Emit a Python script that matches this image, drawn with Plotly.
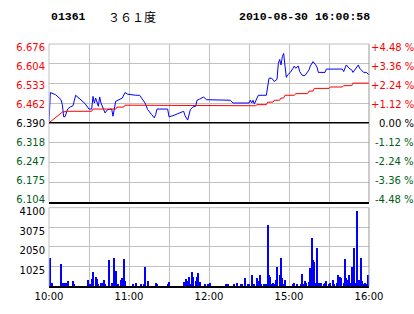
import plotly.graph_objects as go

# ---------------- data ----------------
title_code = "01361"
title_name = "３６１度"
title_time = "2010-08-30 16:00:58"

# minute index from 10:00 (0) to 16:00 (240); 12:30 and 14:30 share index 150
time_tickvals = [0, 30, 60, 90, 120, 150, 180, 210, 240]
time_ticktext = ["10:00", "", "11:00", "", "12:00", "", "15:00", "", "16:00"]

price_minutes = [0, 1, 5, 9, 10, 11, 12, 13, 14, 16, 18, 20, 23, 27, 30, 32, 33, 34, 35, 37,
                 38, 39, 42, 44, 47, 48, 50, 53, 55, 57, 59, 65, 68, 72, 74, 77, 79, 80, 81, 89,
                 90, 93, 97, 101, 102, 104, 106, 108, 110, 111, 113, 116, 118, 136, 138, 150, 151,
                 152, 153, 154, 156, 157, 163, 164, 165, 167, 169, 171, 172, 173, 174, 175, 176,
                 177, 178, 179, 181, 183, 184, 185, 187, 188, 190, 192, 195, 196, 197, 198, 200,
                 201, 202, 207, 208, 220, 221, 222, 223, 225, 227, 228, 230, 232, 233, 236, 238, 240]
price_values = [6.390, 6.500, 6.492, 6.474, 6.456, 6.412, 6.412, 6.429, 6.440, 6.448, 6.452, 6.490,
                6.476, 6.460, 6.440, 6.440, 6.486, 6.462, 6.480, 6.450, 6.484, 6.462, 6.426, 6.438,
                6.440, 6.414, 6.468, 6.476, 6.480, 6.500, 6.494, 6.490, 6.490, 6.462, 6.438, 6.420,
                6.408, 6.420, 6.440, 6.440, 6.412, 6.416, 6.424, 6.432, 6.416, 6.400, 6.438, 6.448,
                6.450, 6.472, 6.476, 6.484, 6.474, 6.472, 6.462, 6.462, 6.472, 6.462, 6.472, 6.458,
                6.480, 6.490, 6.490, 6.524, 6.552, 6.552, 6.540, 6.548, 6.606, 6.620, 6.600, 6.630,
                6.642, 6.596, 6.555, 6.564, 6.573, 6.588, 6.596, 6.588, 6.596, 6.576, 6.562, 6.562,
                6.582, 6.596, 6.604, 6.612, 6.600, 6.592, 6.573, 6.573, 6.585, 6.585, 6.576, 6.588,
                6.600, 6.588, 6.582, 6.573, 6.589, 6.600, 6.588, 6.573, 6.573, 6.564]

avg_minutes = [0, 10, 14, 32, 33, 50, 51, 56, 57, 102, 103, 155, 156, 163, 164, 168, 169, 173,
               174, 176, 177, 184, 185, 194, 195, 198, 199, 210, 211, 220, 221, 227, 228, 240]
avg_values = [6.390, 6.429, 6.432, 6.432, 6.440, 6.440, 6.447, 6.447, 6.454, 6.454, 6.452, 6.452,
              6.456, 6.456, 6.465, 6.465, 6.472, 6.472, 6.480, 6.480, 6.490, 6.490, 6.496, 6.496,
              6.505, 6.505, 6.515, 6.515, 6.520, 6.520, 6.525, 6.525, 6.534, 6.534]

vol_minutes = [1, 2, 9, 10, 11, 13, 14, 18, 19, 29, 31, 32, 33, 35, 36, 37, 39, 40, 41, 42, 45, 47,
               48, 49, 50, 51, 52, 54, 55, 56, 57, 63, 65, 69, 71, 72, 74, 80, 81, 89, 90, 101, 102,
               103, 104, 105, 106, 107, 108, 110, 111, 112, 113, 117, 119, 120, 121, 133, 134, 139,
               141, 144, 145, 147, 149, 150, 152, 154, 156, 157, 158, 159, 161, 162, 163, 164, 165,
               166, 167, 168, 169, 170, 171, 173, 174, 175, 176, 177, 183, 184, 186, 189, 190, 191,
               192, 193, 195, 196, 197, 198, 199, 200, 201, 202, 203, 204, 206, 207, 208, 210, 211,
               213, 214, 216, 217, 218, 219, 221, 222, 223, 224, 225, 226, 227, 229, 230, 231, 232,
               233, 234, 235, 236, 237, 238, 239, 240]
vol_values = [1500, 170, 1150, 200, 200, 200, 260, 260, 100, 340, 120, 400, 760, 480, 400, 100, 170,
              200, 340, 100, 1380, 170, 100, 1500, 810, 100, 120, 340, 450, 1410, 300, 100, 170, 100,
              100, 1000, 300, 170, 100, 100, 220, 220, 100, 400, 260, 480, 100, 760, 480, 260, 480,
              710, 220, 100, 100, 100, 170, 100, 100, 100, 200, 100, 100, 420, 100, 100, 590, 100,
              420, 260, 590, 100, 100, 100, 100, 3190, 620, 480, 100, 170, 100, 350, 1000, 620, 1500,
              450, 100, 340, 100, 170, 100, 100, 660, 100, 300, 170, 220, 950, 2530, 1380, 1260, 200,
              2030, 170, 170, 170, 100, 170, 260, 100, 170, 350, 100, 170, 590, 480, 420, 170, 1410,
              450, 340, 590, 170, 1020, 2010, 170, 3960, 340, 340, 1500, 260, 100, 170, 100, 620, 450]

price_ticks = [6.676, 6.604, 6.533, 6.462, 6.390, 6.318, 6.247, 6.175, 6.104]
price_labels = ["6.676", "6.604", "6.533", "6.462", "6.390", "6.318", "6.247", "6.175", "6.104"]
pct_labels = ["+4.48 %", "+3.36 %", "+2.24 %", "+1.12 %", "0.00 %", "-1.12 %", "-2.24 %", "-3.36 %", "-4.48 %"]
vol_ticks = [1025, 2050, 3075, 4100]
vol_labels = ["1025", "2050", "3075", "4100"]

# ---------------- style ----------------
RED = "#FF0000"
GREEN = "#005E14"
BLACK = "#000000"
BLUE = "#0000FF"
GRID = "#C0C0C0"
prev_close = 6.390


def label_color(v):
    if v > prev_close + 1e-9:
        return RED
    if v < prev_close - 1e-9:
        return GREEN
    return BLACK


W, H = 414, 314
L, R, T, B = 49, 45, 44, 26
plot_h = H - T - B
price_top_px, price_bot_px = 44, 203
vol_top_px, vol_bot_px = 209, 288
price_dom = [(H - B - price_bot_px) / plot_h, (H - B - price_top_px) / plot_h]
vol_dom = [(H - B - vol_bot_px) / plot_h, (H - B - vol_top_px) / plot_h]

tick_font = dict(family="DejaVu Sans", size=10, color=BLACK)

fig = go.Figure()
fig.add_trace(go.Scatter(x=price_minutes, y=price_values, mode="lines",
                         line=dict(color=BLUE, width=1), xaxis="x", yaxis="y",
                         hoverinfo="skip"))
fig.add_trace(go.Scatter(x=avg_minutes, y=avg_values, mode="lines",
                         line=dict(color=RED, width=1), xaxis="x", yaxis="y",
                         hoverinfo="skip"))
fig.add_trace(go.Bar(x=vol_minutes, y=vol_values, width=0.9, xaxis="x2", yaxis="y2",
                     marker=dict(color=BLUE, line=dict(width=0)), hoverinfo="skip"))

xcommon = dict(range=[0, 240], tickmode="array", tickvals=time_tickvals, ticktext=time_ticktext,
               showgrid=True, gridcolor=GRID, gridwidth=1, zeroline=False, ticks="",
               showline=True, linecolor=BLACK, linewidth=2, tickfont=tick_font, fixedrange=True)

fig.update_layout(
    width=W, height=H, margin=dict(l=L, r=R, t=T, b=B, pad=0),
    paper_bgcolor="white", plot_bgcolor="white", showlegend=False, bargap=0,
    xaxis=dict(xcommon, anchor="y", domain=[0, 1], showticklabels=False),
    xaxis2=dict(xcommon, anchor="y2", domain=[0, 1], showticklabels=True),
    yaxis=dict(domain=price_dom, range=[price_ticks[-1], price_ticks[0]], anchor="x",
               tickmode="array", tickvals=price_ticks, showticklabels=False,
               showgrid=True, gridcolor=GRID, zeroline=False, ticks=""),
    yaxis2=dict(domain=vol_dom, range=[0, vol_ticks[-1]], anchor="x2",
                tickmode="array", tickvals=vol_ticks, ticktext=vol_labels, showticklabels=True,
                showgrid=True, gridcolor=GRID, zeroline=False, ticks="", tickfont=tick_font,
                ticklabelshift=4, ticklabelstandoff=3),
    yaxis3=dict(overlaying="y", anchor="x", side="left", range=[6.0939, 6.6899],
                tickmode="array", tickvals=price_ticks,
                ticktext=['<span style="color:%s">%s</span>' % (label_color(v), t)
                          for v, t in zip(price_ticks, price_labels)],
                showgrid=False, zeroline=False, ticks="", tickfont=tick_font,
                ticklabelstandoff=3),
)

# borders and base line
shapes = []
for xr, yr in [("x", "y"), ("x2", "y2")]:
    shapes.append(dict(type="line", xref=xr + " domain", yref=yr + " domain", x0=0, x1=0, y0=0, y1=1,
                       line=dict(color=GRID, width=1)))
    shapes.append(dict(type="line", xref=xr + " domain", yref=yr + " domain", x0=1, x1=1, y0=0, y1=1,
                       line=dict(color="#999999", width=1)))
    shapes.append(dict(type="line", xref=xr + " domain", yref=yr + " domain", x0=0, x1=1, y0=1, y1=1,
                       line=dict(color=GRID, width=1)))
shapes.append(dict(type="line", xref="x domain", yref="y", x0=0, x1=1, y0=prev_close, y1=prev_close,
                   line=dict(color=BLACK, width=1.5)))
fig.update_layout(shapes=shapes)

# right-hand percentage labels
anns = []
for v, t in zip(price_ticks, pct_labels):
    anns.append(dict(xref="paper", yref="y3", x=(415.5 - L) / (W - L - R), y=v, xanchor="right",
                     yanchor="middle", text=t, showarrow=False,
                     font=dict(family="DejaVu Sans", size=10, color=label_color(v))))

# header
def px_x(px):
    return (px - L) / (W - L - R)

hy = (H - B - 16) / plot_h
anns.append(dict(xref="paper", yref="paper", x=px_x(49), y=hy, xanchor="left", yanchor="middle",
                 text="<b>%s</b>" % title_code, showarrow=False,
                 font=dict(family="Liberation Mono", size=11.5, color=BLACK)))
anns.append(dict(xref="paper", yref="paper", x=px_x(106), y=hy, xanchor="left", yanchor="middle",
                 text=title_name, showarrow=False,
                 font=dict(family="Noto Sans CJK SC", size=12, color=BLACK)))
anns.append(dict(xref="paper", yref="paper", x=px_x(236.5), y=hy, xanchor="left", yanchor="middle",
                 text="<b>%s</b>" % title_time, showarrow=False,
                 font=dict(family="Liberation Mono", size=11.5, color=BLACK)))
fig.update_layout(annotations=anns)

fig.write_html("out.html", config={"displayModeBar": False})
